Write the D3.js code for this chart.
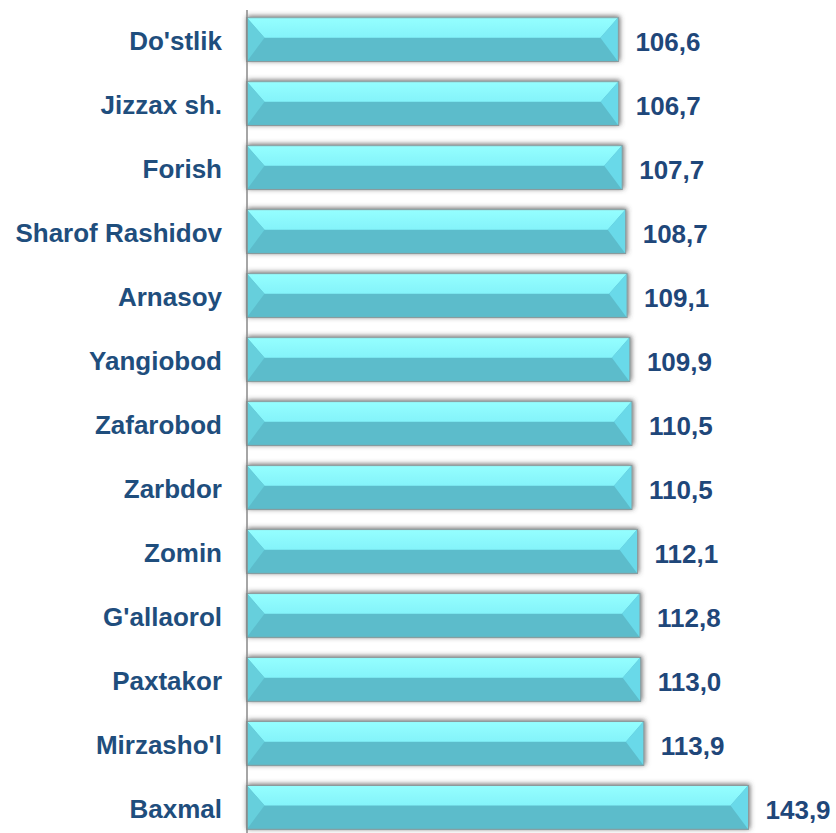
<!DOCTYPE html>
<html>
<head>
<meta charset="utf-8">
<script src="https://cdn.jsdelivr.net/npm/d3@7"></script>
<style>
  body { margin: 0; background: #fff; }
  text { font-family: "Liberation Sans", Arial, sans-serif; font-weight: bold; }
  .cat { fill: #1f4e7d; font-size: 26px; }
  .val { fill: #1f477a; font-size: 26px; }
</style>
</head>
<body>
<svg></svg>
<script>
const districts = ["Do'stlik", "Jizzax sh.", "Forish", "Sharof Rashidov", "Arnasoy", "Yangiobod",
    "Zafarobod", "Zarbdor", "Zomin", "G'allaorol", "Paxtakor", "Mirzasho'l", "Baxmal"]
const values = [106.6, 106.7, 107.7, 108.7, 109.1, 109.9, 110.5, 110.5, 112.1, 112.8, 113.0, 113.9, 143.9]

const width = 836, height = 833
const svg = d3.select("svg")
    .attr("width", width)
    .attr("height", height)

const defs = svg.append("defs")
const shadow = defs.append("filter")
    .attr("id", "shadow")
    .attr("x", "-5%").attr("y", "-30%")
    .attr("width", "110%").attr("height", "160%")
shadow.append("feDropShadow")
    .attr("dx", 1).attr("dy", -1)
    .attr("stdDeviation", 2.4)
    .attr("flood-color", "#444")
    .attr("flood-opacity", 0.8)

const topGrad = defs.append("linearGradient")
    .attr("id", "topFace")
    .attr("x1", 0).attr("y1", 0).attr("x2", 0).attr("y2", 1)
topGrad.append("stop").attr("offset", "0%").attr("stop-color", "#95ffff")
topGrad.append("stop").attr("offset", "100%").attr("stop-color", "#84f3fa")

const x = d3.scaleLinear()
    .domain([0, d3.max(values)])
    .range([246.5, 748.5])

const y = d3.scaleBand()
    .domain(districts)
    .range([-2, 849])
    .padding(0.3)

const bevel = 18

const rows = svg.selectAll("g.row")
    .data(districts.map((d, i) => ({ name: d, value: values[i] })))
    .enter()
    .append("g")
    .attr("class", "row")
    .attr("transform", d => `translate(0, ${y(d.name)})`)

const bh = y.bandwidth()
const mid = bh * 0.46

const bars = rows.append("g")
    .attr("filter", "url(#shadow)")

bars.append("rect")
    .attr("x", x(0))
    .attr("y", 0)
    .attr("width", d => x(d.value) - x(0))
    .attr("height", bh)
    .attr("fill", "#5cbccb")

bars.append("path")
    .attr("fill", "url(#topFace)")
    .attr("d", d => {
        const x0 = x(0), x1 = x(d.value)
        return `M${x0},0L${x1},0L${x1 - bevel},${mid}L${x0 + bevel},${mid}Z`
    })

bars.append("path")
    .attr("fill", "#66cfdc")
    .attr("d", d => `M${x(0)},0L${x(0) + bevel},${mid}L${x(0)},${bh}Z`)

bars.append("path")
    .attr("fill", "#69d9e9")
    .attr("d", d => `M${x(d.value)},0L${x(d.value) - bevel},${mid}L${x(d.value)},${bh}Z`)

bars.append("rect")
    .attr("x", x(0))
    .attr("y", 0.5)
    .attr("width", d => x(d.value) - x(0))
    .attr("height", bh - 1)
    .attr("fill", "none")
    .attr("stroke", "#8c9a9c")
    .attr("stroke-width", 1)

rows.append("text")
    .attr("class", "cat")
    .attr("x", 222)
    .attr("y", 32.5)
    .attr("text-anchor", "end")
    .text(d => d.name)

rows.append("text")
    .attr("class", "val")
    .attr("x", d => x(d.value) + 17)
    .attr("y", 34)
    .text(d => d3.format(".1f")(d.value).replace(".", ","))

// vertical category axis line
svg.append("line")
    .attr("x1", 247).attr("x2", 247)
    .attr("y1", 10).attr("y2", height)
    .attr("stroke", "#888")
    .attr("stroke-width", 1.5)
</script>
</body>
</html>
